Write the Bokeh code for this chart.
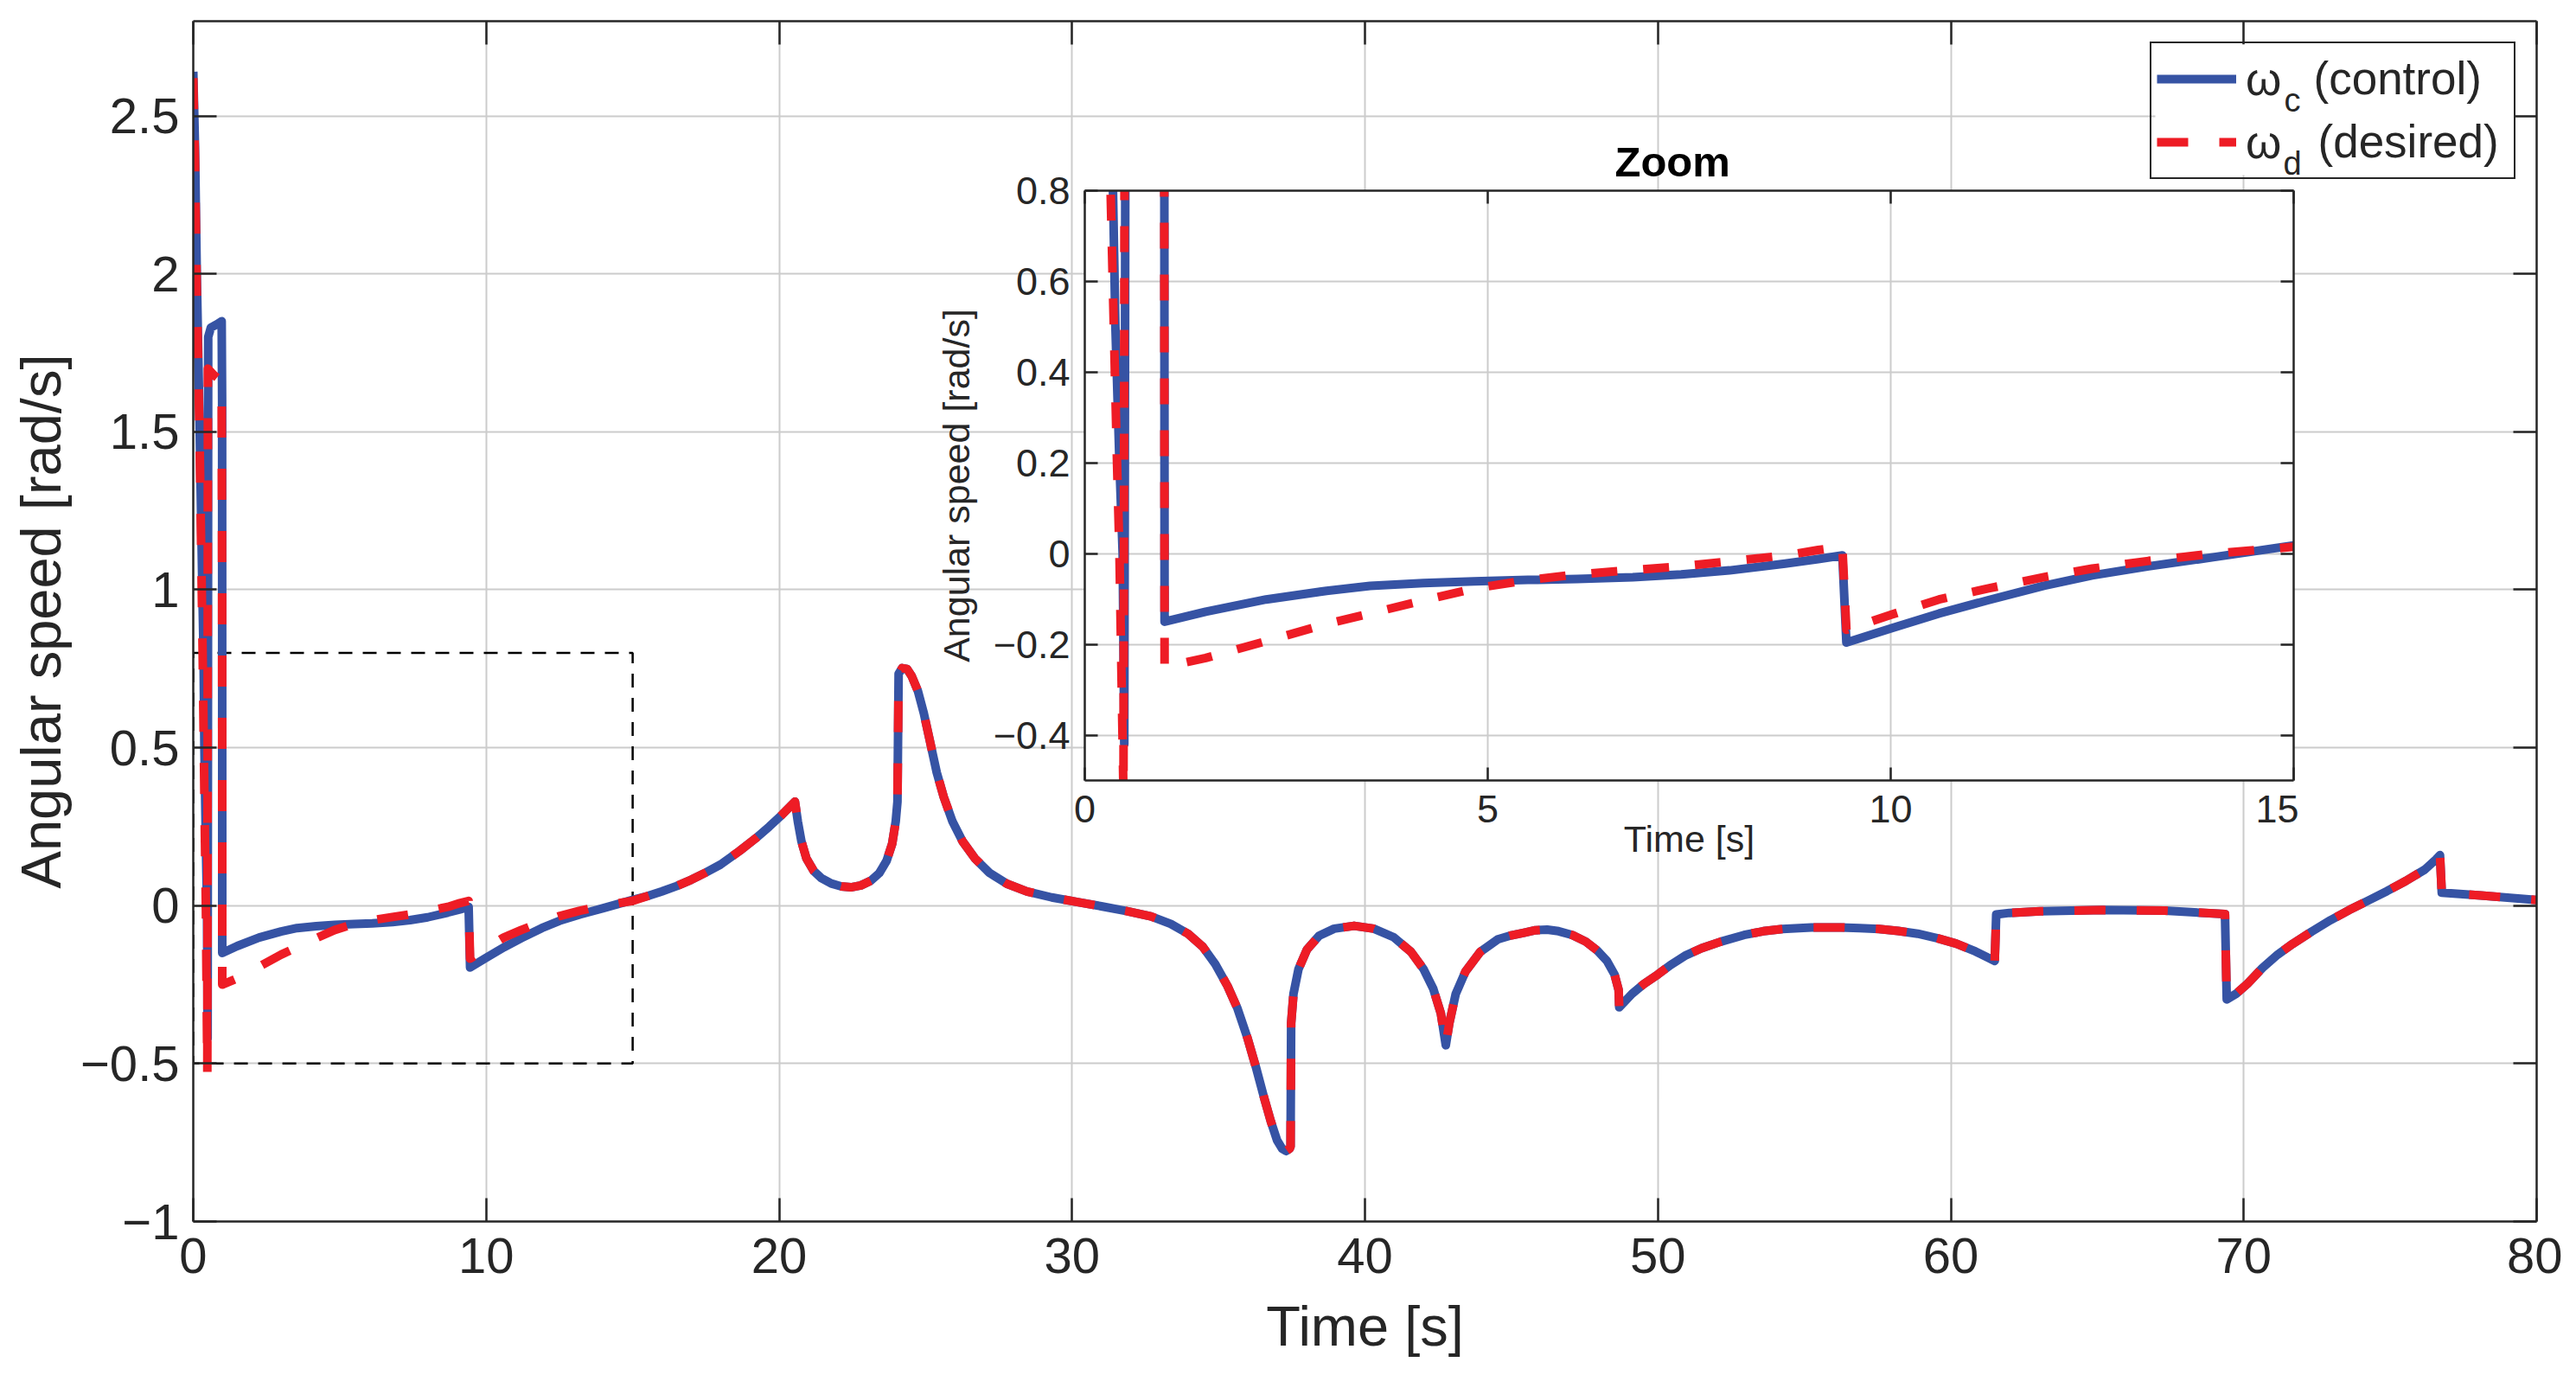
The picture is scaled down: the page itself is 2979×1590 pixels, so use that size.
from bokeh.plotting import figure
from bokeh.models import (Range1d, LinearAxis, FixedTicker, Legend, LegendItem,
                          Label, ColumnDataSource, CustomLabelingPolicy, BoxAnnotation)
from bokeh.embed import file_html
from bokeh.resources import INLINE
from bokeh.core.properties import value
from jinja2 import Template

# ---------------- data ----------------
# omega_c (control), first 15 s
T_CTRL_EARLY = [0.00, 0.06, 0.12, 0.22, 0.31, 0.35, 0.38, 0.43, 0.47, 0.49, 0.50, 0.51,
                0.60, 0.80, 0.97, 0.985, 0.99,
                1.5, 2.25, 3.0, 3.54, 4.2, 4.83, 5.5, 6.11, 6.8, 7.4, 8.0, 8.69, 9.1, 9.40,
                9.45, 10.0, 10.6, 11.2, 11.9, 12.5, 13.2, 14.0, 15.0]
W_CTRL_EARLY = [2.64, 2.40, 2.00, 1.50, 1.00, 0.80, 0.50, 0.20, 0.00, -0.42, 0.50, 1.80,
                1.83, 1.84, 1.85, 1.60, -0.15,
                -0.128, -0.101, -0.082, -0.071, -0.065, -0.061, -0.058, -0.056, -0.052,
                -0.046, -0.037, -0.022, -0.012, -0.004,
                -0.196, -0.165, -0.132, -0.103, -0.071, -0.048, -0.028, -0.008, 0.018]

# omega_d (desired), first 15 s
T_DES_EARLY = [0.00, 0.06, 0.12, 0.22, 0.29, 0.32, 0.36, 0.40, 0.43, 0.48, 0.49, 0.50,
               0.70, 0.97, 0.985, 0.99,
               1.5, 2.25, 3.0, 3.54, 4.2, 4.83, 5.5, 6.11, 6.8, 7.4, 8.0, 8.69, 9.1, 9.40,
               9.45, 10.0, 10.6, 11.2, 11.9, 12.5, 13.2, 14.0, 15.0]
W_DES_EARLY = [2.62, 2.35, 1.95, 1.45, 1.00, 0.80, 0.50, 0.20, 0.00, -0.53, 0.50, 1.70,
               1.68, 1.66, 1.00, -0.25,
               -0.23, -0.193, -0.155, -0.132, -0.103, -0.077, -0.058, -0.046, -0.036,
               -0.028, -0.017, -0.004, 0.008, 0.015,
               -0.168, -0.135, -0.101, -0.077, -0.052, -0.033, -0.016, 0.000, 0.015]

# after 15 s both signals coincide
T_SHARED = [15.5, 16.0, 16.5, 17.0, 17.5, 18.0, 18.65, 19.2, 19.66, 20.1, 20.54,
            20.64, 20.76, 20.93, 21.18, 21.44, 21.78, 22.12, 22.45, 22.79, 23.13, 23.42,
            23.67, 23.86, 23.98, 24.04, 24.08, 24.2, 24.37, 24.53, 24.74, 24.94, 25.16,
            25.38, 25.62, 25.92, 26.26, 26.68, 27.19, 27.78, 28.46, 29.31, 30.15, 31.0,
            31.84, 32.69, 33.37, 33.96, 34.47, 34.89, 35.31, 35.65, 35.99, 36.28, 36.55,
            36.79, 37.0, 37.17, 37.31, 37.43, 37.46, 37.48, 37.56, 37.73, 38.02, 38.44,
            38.95, 39.63, 40.3, 40.98, 41.57, 42.0, 42.33, 42.59, 42.76, 42.88, 43.1,
            43.43, 43.94, 44.53, 45.0, 45.43, 45.82, 46.22, 46.61, 47.08, 47.54, 47.93,
            48.26, 48.52, 48.66, 48.68, 49.12, 49.51, 50.0, 50.43, 50.96, 51.49, 52.15,
            52.94, 53.6, 54.26, 55.24, 56.23, 56.89, 57.55, 58.2, 58.87, 59.53, 60.18,
            60.84, 61.5, 61.55, 62.0, 63.05, 65.2, 67.3, 69.36, 69.42, 69.74, 70.13,
            70.64, 71.16, 71.67, 72.32, 72.96, 73.6, 74.25, 74.89, 75.53, 76.18, 76.56,
            76.7, 76.76, 78.1, 80.0]
W_SHARED = [0.03, 0.045, 0.062, 0.082, 0.105, 0.13, 0.173, 0.213, 0.25, 0.288, 0.329,
            0.266, 0.204, 0.15, 0.11, 0.087, 0.07, 0.061, 0.058, 0.064, 0.079, 0.103,
            0.142, 0.196, 0.266, 0.329, 0.734, 0.752, 0.749, 0.726, 0.679, 0.609, 0.516,
            0.422, 0.344, 0.266, 0.204, 0.15, 0.103, 0.069, 0.045, 0.026, 0.012, -0.002,
            -0.017, -0.034, -0.058, -0.089, -0.131, -0.185, -0.255, -0.326, -0.419,
            -0.512, -0.606, -0.684, -0.743, -0.769, -0.777, -0.769, -0.762, -0.372,
            -0.279, -0.201, -0.139, -0.095, -0.073, -0.064, -0.073, -0.10, -0.146,
            -0.201, -0.263, -0.341, -0.442, -0.372, -0.279, -0.209, -0.146, -0.107,
            -0.094, -0.086, -0.078, -0.076, -0.081, -0.093, -0.114, -0.142, -0.175,
            -0.218, -0.267, -0.322, -0.279, -0.249, -0.218, -0.188, -0.157, -0.135,
            -0.114, -0.093, -0.081, -0.074, -0.069, -0.069, -0.071, -0.074, -0.08,
            -0.089, -0.103, -0.12, -0.145, -0.175, -0.028, -0.023, -0.018, -0.014,
            -0.016, -0.027, -0.297, -0.279, -0.247, -0.197, -0.155, -0.121, -0.082,
            -0.046, -0.014, 0.016, 0.046, 0.078, 0.114, 0.146, 0.16, 0.041, 0.032, 0.018]

X_RANGE = [0, 80]
Y_RANGE = [-1, 2.8]
X_TICKS = [0, 10, 20, 30, 40, 50, 60, 70, 80]
X_TICK_LABELS = ["0", "10", "20", "30", "40", "50", "60", "70", "80"]
Y_TICKS = [-1, -0.5, 0, 0.5, 1, 1.5, 2, 2.5]
Y_TICK_LABELS = ["\u22121", "\u22120.5", "0", "0.5", "1", "1.5", "2", "2.5"]

ZOOM_X = [0, 15]
ZOOM_Y = [-0.5, 0.8]
ZX_TICKS = [0, 5, 10, 15]
ZX_TICK_LABELS = ["0", "5", "10", "15"]
ZY_TICKS = [-0.4, -0.2, 0, 0.2, 0.4, 0.6, 0.8]
ZY_TICK_LABELS = ["\u22120.4", "\u22120.2", "0", "0.2", "0.4", "0.6", "0.8"]

SERIES_NAMES = ["\u03c9", "\u03c9"]
SERIES_SUBS = ["c", "d"]
SERIES_DESC = ["(control)", "(desired)"]

BLUE = "#3653A4"
RED = "#EE1C25"
AX = "#262626"
GRID = "#cccccc"
FONT = "Liberation Sans"
LW = 10

src_c = ColumnDataSource(dict(t=T_CTRL_EARLY + T_SHARED, w=W_CTRL_EARLY + W_SHARED))
src_d = ColumnDataSource(dict(t=T_DES_EARLY + T_SHARED, w=W_DES_EARLY + W_SHARED))

NO_LABELS = CustomLabelingPolicy(code="return new Set()")


def style_axis(ax, tick_len, lab_size, ticks, labels, lab_standoff, show=True):
    ax.ticker = ticks
    ax.major_label_overrides = dict(zip(ticks.ticks, labels))
    ax.major_tick_in = tick_len
    ax.major_tick_out = 0
    ax.minor_tick_in = 0
    ax.minor_tick_out = 0
    ax.axis_line_color = AX
    ax.axis_line_width = 2.5
    ax.major_tick_line_color = AX
    ax.major_tick_line_width = 2.5
    ax.major_label_text_font = FONT
    ax.major_label_text_color = AX
    if show:
        ax.major_label_text_font_size = lab_size
        ax.major_label_standoff = lab_standoff
    else:
        ax.major_label_text_font_size = "1px"
        ax.major_label_standoff = 0
        ax.major_label_policy = NO_LABELS


# ---------------- main figure ----------------
FL, FR, FT, FB = 219, 2929, 24, 1412   # frame edges on the page
p = figure(frame_width=FR - FL, frame_height=FB - FT,
           x_range=Range1d(*X_RANGE), y_range=Range1d(*Y_RANGE),
           output_backend="svg", toolbar_location=None,
           min_border_left=211, min_border_right=30, min_border_top=16, min_border_bottom=176)
p.outline_line_color = None
p.background_fill_color = "white"
p.border_fill_color = "white"

xt = FixedTicker(ticks=X_TICKS)
yt = FixedTicker(ticks=Y_TICKS)
style_axis(p.xaxis[0], 27, "58px", xt, X_TICK_LABELS, 19)
style_axis(p.yaxis[0], 27, "58px", yt, Y_TICK_LABELS, 16)
p.xaxis[0].axis_label = "Time [s]"
p.yaxis[0].axis_label = "Angular speed [rad/s]"
for ax, st in ((p.xaxis[0], 22), (p.yaxis[0], 6)):
    ax.axis_label_text_font = FONT
    ax.axis_label_text_font_size = "65px"
    ax.axis_label_text_font_style = "normal"
    ax.axis_label_text_color = AX
    ax.axis_label_standoff = st
top_ax = LinearAxis()
style_axis(top_ax, 27, None, FixedTicker(ticks=X_TICKS), X_TICK_LABELS, 0, show=False)
p.add_layout(top_ax, "above")
right_ax = LinearAxis()
style_axis(right_ax, 27, None, FixedTicker(ticks=Y_TICKS), Y_TICK_LABELS, 0, show=False)
p.add_layout(right_ax, "right")

p.xgrid[0].ticker = xt
p.ygrid[0].ticker = yt
for g in (p.xgrid[0], p.ygrid[0]):
    g.grid_line_color = GRID
    g.grid_line_width = 2

p.quad(left=[ZOOM_X[0]], right=[ZOOM_X[1]], bottom=[ZOOM_Y[0]], top=[ZOOM_Y[1]],
       fill_color=None, line_color="black", line_width=2.5, line_dash="16 12")

r_c = p.line("t", "w", source=src_c, line_color=BLUE, line_width=LW, line_join="round")
r_d = p.line("t", "w", source=src_d, line_color=RED, line_width=LW, line_join="round",
             line_dash="36 36")


def px_to_x(px):
    return X_RANGE[0] + (px - FL) / (FR - FL) * (X_RANGE[1] - X_RANGE[0])


def py_to_y(py):
    return Y_RANGE[0] + (FB - py) / (FB - FT) * (Y_RANGE[1] - Y_RANGE[0])


# white backing of the legend box (legend itself is drawn transparent on top)
LEG_L, LEG_R, LEG_T, LEG_B = 2488, 2903, 51, 202
p.add_layout(BoxAnnotation(left=px_to_x(LEG_L), right=px_to_x(LEG_R),
                           top=py_to_y(LEG_T), bottom=py_to_y(LEG_B),
                           fill_color="white", fill_alpha=1.0, line_color=None,
                           level="annotation"))

legend = Legend(items=[LegendItem(label=value(SERIES_NAMES[0]), renderers=[r_c]),
                       LegendItem(label=value(SERIES_NAMES[1]), renderers=[r_d])],
                location="top_right", margin=24, padding=6, spacing=3,
                glyph_width=92, glyph_height=70, label_height=70, label_width=304,
                label_standoff=11, label_text_font=FONT, label_text_font_size="53px",
                label_text_baseline="alphabetic", label_text_color=AX,
                border_line_color=AX, border_line_width=2.5, border_line_alpha=1.0,
                background_fill_color="white", background_fill_alpha=0.0)
p.add_layout(legend)

# subscripts and descriptions of the legend entries
row_baselines = [90, 163]
sub_x = [2637, 2636]
desc_x = [2671, 2676]
for i in range(2):
    base = row_baselines[i]
    p.add_layout(Label(x=px_to_x(sub_x[i]), y=py_to_y(base + 25), level="overlay",
                       text=SERIES_SUBS[i], text_font=FONT, text_font_size="38px",
                       text_color=AX, text_baseline="alphabetic", text_align="left"))
    p.add_layout(Label(x=px_to_x(desc_x[i]), y=py_to_y(base), level="overlay",
                       text=SERIES_DESC[i], text_font=FONT, text_font_size="53px",
                       text_color=AX, text_baseline="alphabetic", text_align="left"))

# ---------------- inset figure ----------------
IL, IR, IT, IB = 1250, 2648, 220, 902
ins = figure(frame_width=IR - IL, frame_height=IB - IT,
             x_range=Range1d(*ZOOM_X), y_range=Range1d(*ZOOM_Y),
             output_backend="svg", toolbar_location=None, title="Zoom",
             min_border_left=172, min_border_right=6, min_border_top=80, min_border_bottom=112)
ins.border_fill_color = None
ins.background_fill_color = "white"
ins.outline_line_color = None
ins.title.align = "left"
ins.title.offset = 613
ins.title.text_font = FONT
ins.title.text_font_size = "49px"
ins.title.text_font_style = "bold"
ins.title.text_color = "black"
ins.title.standoff = 6

zxt = FixedTicker(ticks=ZX_TICKS)
zyt = FixedTicker(ticks=ZY_TICKS)
style_axis(ins.xaxis[0], 15, "45px", zxt, ZX_TICK_LABELS, 17)
style_axis(ins.yaxis[0], 15, "45px", zyt, ZY_TICK_LABELS, 17)
ins.xaxis[0].axis_label = "Time [s]"
ins.yaxis[0].axis_label = "Angular speed [rad/s]"
for ax, st in ((ins.xaxis[0], -8), (ins.yaxis[0], 16)):
    ax.axis_label_text_font = FONT
    ax.axis_label_text_font_size = "43px"
    ax.axis_label_text_font_style = "normal"
    ax.axis_label_text_color = AX
    ax.axis_label_standoff = st
itop = LinearAxis()
style_axis(itop, 15, None, FixedTicker(ticks=ZX_TICKS), ZX_TICK_LABELS, 0, show=False)
ins.add_layout(itop, "above")
iright = LinearAxis()
style_axis(iright, 15, None, FixedTicker(ticks=ZY_TICKS), ZY_TICK_LABELS, 0, show=False)
ins.add_layout(iright, "right")
ins.xgrid[0].ticker = zxt
ins.ygrid[0].ticker = zyt
for g in (ins.xgrid[0], ins.ygrid[0]):
    g.grid_line_color = GRID
    g.grid_line_width = 2

ins.line("t", "w", source=src_c, line_color=BLUE, line_width=LW, line_join="round")
ins.line("t", "w", source=src_d, line_color=RED, line_width=LW, line_join="round",
         line_dash="30 30")

TEMPLATE = Template("""{% from macros import embed %}{% extends base %}
{% block contents %}
<style>html, body { overflow: hidden; }</style>
<div style="position:absolute; left:{{ mx }}px; top:{{ my }}px;">{{ embed(roots[0]) }}</div>
<div style="position:absolute; left:{{ ix }}px; top:{{ iy }}px;">{{ embed(roots[1]) }}</div>
{% endblock %}
""")

html = file_html([p, ins], INLINE, title="Angular speed", template=TEMPLATE,
                 template_variables=dict(mx=8, my=8, ix=IL - 172, iy=IT - 80))
open("out.html", "w").write(html)
